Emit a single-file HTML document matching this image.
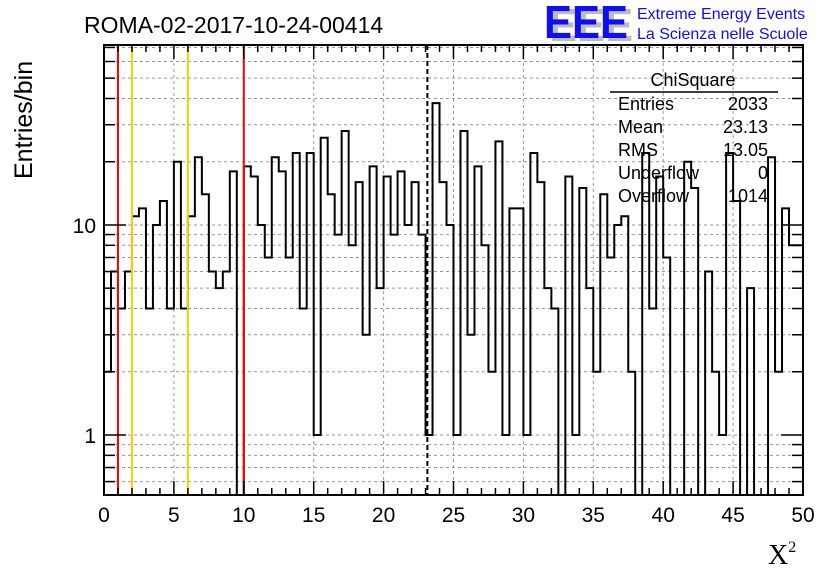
<!DOCTYPE html>
<html><head><meta charset="utf-8"><style>
body{margin:0;background:#fff;}
svg{display:block;font-family:"Liberation Sans",sans-serif;}
</style></head><body>
<svg id="chart" width="836" height="572" viewBox="0 0 836 572" xmlns="http://www.w3.org/2000/svg">
<rect width="836" height="572" fill="#fff"/>
<g id="grid"></g>
<g id="hist"></g>
<g id="axes"></g>
<text x="84" y="33" font-size="23">ROMA-02-2017-10-24-00414</text>
<g font-weight="bold" font-size="46">
<text x="549" y="41" fill="#bbb" textLength="84" lengthAdjust="spacingAndGlyphs">EEE</text>
<text x="544" y="38" fill="#1010ee" textLength="84" lengthAdjust="spacingAndGlyphs">EEE</text>
</g>
<text x="637" y="19" font-size="16" fill="#1010ee">Extreme Energy Events</text>
<text x="637" y="39" font-size="16" fill="#1010ee">La Scienza nelle Scuole</text>
<text transform="translate(32,179) rotate(-90)" font-size="25">Entries/bin</text>
<text x="768" y="564" font-size="28" font-family="Liberation Serif, serif">X<tspan font-size="16" dy="-12">2</tspan></text>
<g font-size="18">
<text x="693" y="86" text-anchor="middle">ChiSquare</text>
<line x1="610" y1="92" x2="778" y2="92" stroke="#000" stroke-width="1.5"/>
<text x="618" y="110">Entries</text><text x="768" y="110" text-anchor="end">2033</text>
<text x="618" y="133">Mean</text><text x="768" y="133" text-anchor="end">23.13</text>
<text x="618" y="156">RMS</text><text x="768" y="156" text-anchor="end">13.05</text>
<text x="618" y="179">Underflow</text><text x="768" y="179" text-anchor="end">0</text>
<text x="618" y="202">Overflow</text><text x="768" y="202" text-anchor="end">1014</text>
</g>
</svg>
<script>
const counts = [2,6,4,6,11,12,4,10,13,4,20,4,11,21,14,6,5,6,18,0,19,17,10,7,21,18,7,22,4,22,1,26,14,9,28,8,16,3,19,5,17,9,18,10,16,9,1,38,16,10,1,28,3,19,8,2,25,1,12,12,1,22,16,5,4,0,17,1,15,5,2,14,7,10,11,2,0,22,4,17,7,0,0,20,15,0,6,2,1,22,13,0,5,0,0,21,2,12,8,8];
const binMin = 0, binWidth = 0.5;
const xTicks = [0,5,10,15,20,25,30,35,40,45,50];
const yTickLabels = [1,10];
const yGridValues = [0.6,0.7,0.8,0.9,1,2,3,4,5,6,7,8,9,10,20,30,40,50,60,70];
const cutLines = [1,10];
const warnLines = [2,6];
const meanValue = 23.13;

const L=104,R=803,T=45,B=495,XMAX=50,YMIN=0.518,YMAX=71.9;
const ns="http://www.w3.org/2000/svg";
const xs=v=>L+(v-0)/(XMAX-0)*(R-L);
const ys=v=>{if(v<=0)return B;const y=B-(Math.log10(v)-Math.log10(YMIN))/(Math.log10(YMAX)-Math.log10(YMIN))*(B-T);return Math.max(T,Math.min(B,y));};
function mk(tag,attrs,parent){const e=document.createElementNS(ns,tag);for(const k in attrs)e.setAttribute(k,attrs[k]);parent.appendChild(e);return e;}
const grid=document.getElementById('grid'),hist=document.getElementById('hist'),axes=document.getElementById('axes');
for(const v of xTicks.slice(1,-1)){
  const l=mk('line',{x1:xs(v),x2:xs(v),y1:T,y2:B,stroke:'#999','stroke-dasharray':'3,3','stroke-width':1},grid);
  
  
}
for(const v of yGridValues){
  const l=mk('line',{x1:L,x2:R,y1:ys(v),y2:ys(v),stroke:'#999','stroke-dasharray':'3,3','stroke-width':1},grid);
  
  
}
let d='M'+xs(binMin)+','+B;
counts.forEach((c,i)=>{const x0=xs(binMin+i*binWidth),x1=xs(binMin+(i+1)*binWidth),y=ys(c);d+=' L'+x0+','+y+' L'+x1+','+y;});
d+=' L'+xs(binMin+counts.length*binWidth)+','+B;
const p=mk('path',{d:d,fill:'none',stroke:'#000','stroke-width':2},hist);


for(const v of cutLines){
  const l=mk('line',{x1:xs(v),x2:xs(v),y1:T,y2:B,stroke:'#f00','stroke-width':2},hist);
  
  
}
for(const v of warnLines){
  const l=mk('line',{x1:xs(v),x2:xs(v),y1:T,y2:B,stroke:'#fc0','stroke-width':2},hist);
  
  
}
const ml=mk('line',{x1:xs(meanValue),x2:xs(meanValue),y1:T,y2:B,stroke:'#000','stroke-width':2,'stroke-dasharray':'5,3'},hist);


const fr=mk('rect',{x:L,y:T,width:R-L,height:B-T,fill:'none',stroke:'#000','stroke-width':2},axes);


for(let v=0;v<=XMAX;v++){
  const len=(v%5===0)?14:7;
  mk('line',{x1:xs(v),x2:xs(v),y1:B,y2:B-len,stroke:'#000','stroke-width':1.5},axes);
  mk('line',{x1:xs(v),x2:xs(v),y1:T,y2:T+len,stroke:'#000','stroke-width':1.5},axes);
}
for(const v of xTicks){
  const t=mk('text',{x:xs(v),y:522,'text-anchor':'middle','font-size':21},axes);
  t.textContent=v;
  
  
}
for(const v of yGridValues){
  const len=(v===1||v===10)?22:11;
  mk('line',{x1:L,x2:L+len,y1:ys(v),y2:ys(v),stroke:'#000','stroke-width':1.5},axes);
  mk('line',{x1:R,x2:R-len,y1:ys(v),y2:ys(v),stroke:'#000','stroke-width':1.5},axes);
}
for(const v of yTickLabels){
  const t=mk('text',{x:96,y:ys(v)+8,'text-anchor':'end','font-size':21},axes);
  t.textContent=v;
  
  
}
</script>
</body></html>
